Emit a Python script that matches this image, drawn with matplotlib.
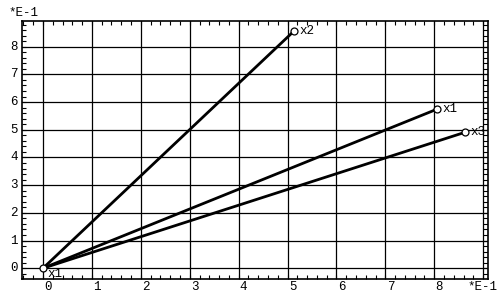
import matplotlib
matplotlib.use("Agg")
import matplotlib.pyplot as plt
import matplotlib.transforms as mtransforms
import numpy as np

# data (display units, *E-1)
names = ["x1", "x2", "x3"]
end_x = [8.05, 5.14, 8.63]
end_y = [5.74, 8.58, 4.91]
start_x = 0.0
start_y = 0.0
start_label = "x1"
xtick_vals = [0, 1, 2, 3, 4, 5, 6, 7, 8]
ytick_vals = [0, 1, 2, 3, 4, 5, 6, 7, 8]
scale_label = "*E-1"

FONT = "Liberation Mono"
FS = 9

fig = plt.figure(figsize=(5.0, 2.95), dpi=100)
ax = fig.add_axes([22/500, 1-279/295, (488-22)/500, (279-21)/295])
ax.set_xlim(-0.43, 9.1)
ax.set_ylim(-0.39, 8.93)

# grid
for gx in range(0, 10):
    ax.axvline(gx, color="black", lw=0.9, zorder=1)
for gy in range(0, 9):
    ax.axhline(gy, color="black", lw=0.9, zorder=1)

# lines
for nx, ny, nm in zip(end_x, end_y, names):
    ax.plot([start_x, nx], [start_y, ny], color="black", lw=2.0, zorder=3,
            solid_capstyle="butt")
    ax.plot([nx], [ny], marker="o", ms=5, mfc="white", mec="black", mew=0.9,
            zorder=4, clip_on=False)
    t = ax.annotate(nm, (nx, ny), xytext=(4, 0), textcoords="offset points",
                    ha="left", va="center", fontsize=FS, family=FONT, zorder=1.5)
    t.set_clip_on(True)
    t.set_clip_box(ax.bbox)

ax.plot([start_x], [start_y], marker="o", ms=5, mfc="white", mec="black",
        mew=0.9, zorder=4, clip_on=False)
ax.annotate(start_label, (start_x, start_y), xytext=(3, -4),
            textcoords="offset points", ha="left", va="center",
            fontsize=FS, family=FONT, zorder=5)

# ticks
ax.set_xticks(np.arange(-0.4, 9.01, 0.2), minor=True)
ax.set_yticks(np.arange(-0.2, 8.81, 0.2), minor=True)
ax.set_xticks([])
ax.set_yticks([])
ax.tick_params(which="minor", direction="in", length=3, width=0.8,
               top=True, bottom=True, left=True, right=False,
               labelbottom=False, labelleft=False)
for sp in ax.spines.values():
    sp.set_linewidth(1.2)
    sp.set_zorder(6)

# right side ladder ticks (from right spine to x=9 line)
ytk = np.arange(-0.2, 8.81, 0.2)
ax.hlines(ytk, 9.0, 9.1, color="black", lw=0.8, zorder=2)

# tick labels
tx = mtransforms.blended_transform_factory(ax.transData, ax.transAxes)
for v in xtick_vals:
    ax.text(v, 0, str(v), transform=tx + mtransforms.ScaledTranslation(5/100, -8/100, fig.dpi_scale_trans),
            ha="center", va="center", fontsize=FS, family=FONT, clip_on=False)
ty = mtransforms.blended_transform_factory(ax.transAxes, ax.transData)
for v in ytick_vals:
    ax.text(0, v, str(v), transform=ty + mtransforms.ScaledTranslation(-8/100, 0, fig.dpi_scale_trans),
            ha="center", va="center", fontsize=FS, family=FONT, clip_on=False)

fig.text(8/500, 1-13/295, scale_label, ha="left", va="center", fontsize=FS, family=FONT)
fig.text(497/500, 1-287/295, scale_label, ha="right", va="center", fontsize=FS, family=FONT)

fig.savefig("out.png", dpi=100, facecolor="white")
